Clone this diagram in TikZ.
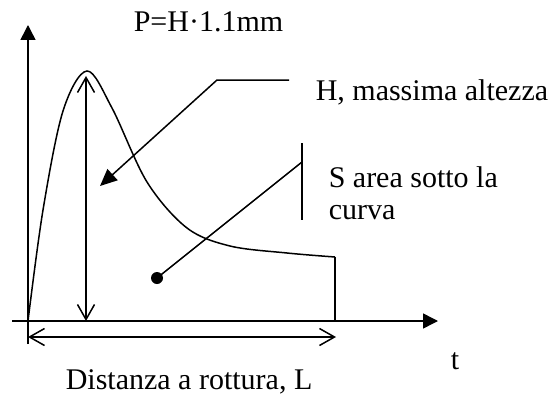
\documentclass[tikz,border=0pt]{standalone}
\usepackage{fontspec}
\setmainfont{Liberation Serif}
\usetikzlibrary{arrows.meta}
\begin{document}
\begin{tikzpicture}[x=1pt,y=-1pt,line width=1.5pt,
  lbl/.style={inner sep=0pt,anchor=base west,font=\fontsize{30}{35}\selectfont},
  solidtip/.style={-{Triangle[length=15pt,width=15pt]}},
  barb/.style={{Straight Barb[length=15pt,width=17pt,line width=1.5pt]}-{Straight Barb[length=15pt,width=17pt,line width=1.5pt]}}]
\useasboundingbox (0,0) rectangle (554,396);
% axes
\coordinate (O) at (28,321);
\coordinate (ytop) at (28,25);
\coordinate (ybot) at (28,344);
\coordinate (xleft) at (12,321);
\coordinate (xright) at (438,321);
\draw[solidtip] (ybot) -- (ytop);
\draw[solidtip] (xleft) -- (xright);
% curve
\coordinate (peak) at (87,71);
\coordinate (cend) at (335,257);
\coordinate (cfoot) at (335,321);
\draw plot[smooth,tension=0.55] coordinates {(28,321) (43,210) (63,111) (87,71) (112,108) (147,182) (187,228) (230,246) (287,253) (335,257)};
\draw (cend) -- (cfoot);
% H dimension
\coordinate (htop) at (86,76);
\coordinate (hbot) at (86,321);
\draw[barb] (hbot) -- (htop);
% L dimension
\coordinate (lleft) at (28,337);
\coordinate (lright) at (336,337);
\draw[barb] (lleft) -- (lright);
% labels
\node[lbl] (ptext) at (133,32) {P=H·1.1mm};
\node[lbl] (hlabel) at (315,100) {H, massima altezza};
\node[lbl] (slabel) at (328,187) {S area sotto la};
\node[lbl] (slabel2) at (328,219) {curva};
\node[lbl] (tlabel) at (450,369) {t};
\node[lbl] (llabel) at (65,389) {Distanza a rottura, L};
% H leader
\coordinate (hend) at (289,80);
\coordinate (hbend) at (217,80);
\coordinate (htip) at (100,186);
\draw[-{Triangle[length=17pt,width=15pt]}] (hend) -- (hbend) -- (htip);
% S leader
\coordinate (stop) at (302,143);
\coordinate (sbottom) at (302,220);
\coordinate (sjoin) at (302,162);
\node[circle,fill,inner sep=0pt,minimum size=12pt] (sdot) at (157,278) {};
\draw (stop) -- (sbottom);
\draw (sjoin) -- (sdot.center);
\end{tikzpicture}
\end{document}
